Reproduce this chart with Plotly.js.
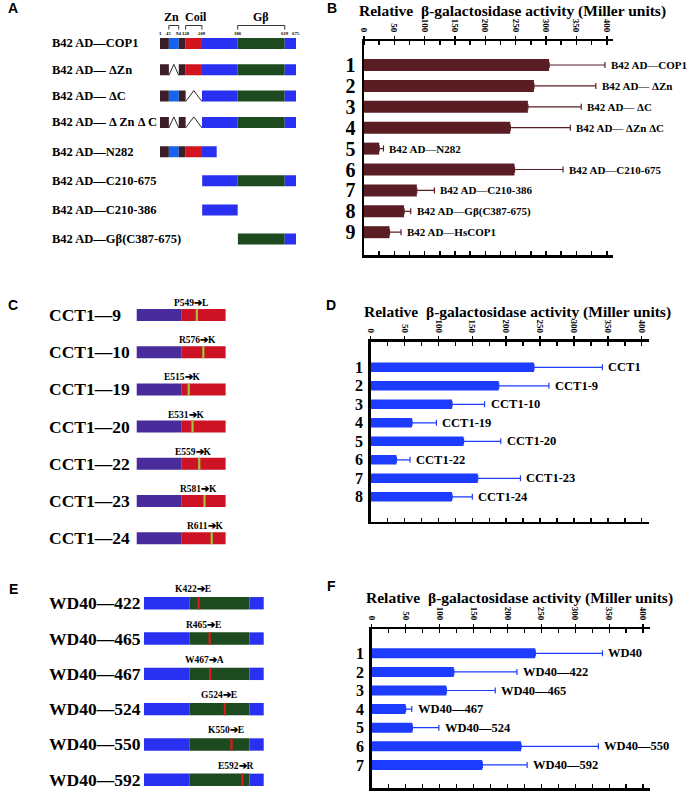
<!DOCTYPE html>
<html><head><meta charset="utf-8">
<script src="https://cdn.plot.ly/plotly-3.0.1.min.js"></script>
<style>html,body{margin:0;padding:0;background:#fff}#chart{width:690px;height:801px}</style>
</head><body><div id="chart"></div>
<script>
// ===================== DATA =====================
// Panel A : COP1 domain map and constructs
const cop1RegionNames = ['N1', 'Zn', 'N2', 'Coil', 'L1', 'WD40', 'L2'];
const cop1RegionStart = [1, 45, 94, 128, 209, 386, 619];
const cop1RegionEnd   = [45, 94, 128, 209, 386, 619, 675];
const cop1TickResidues = [1, 45, 94, 128, 209, 386, 619, 675];
const cop1BracketRegions = ['Zn', 'Coil', 'WD40'];
const cop1BracketLabels  = ['Zn', 'Coil', 'Gβ'];
const constructNames = ['B42 AD—COP1', 'B42 AD— ΔZn', 'B42 AD— ΔC', 'B42 AD— Δ Zn Δ C',
  'B42 AD—N282', 'B42 AD—C210-675', 'B42 AD—C210-386', 'B42 AD—Gβ(C387-675)'];
const constructStart = [1, 1, 1, 1, 1, 210, 210, 387];
const constructEnd   = [675, 675, 675, 675, 282, 675, 386, 675];
const constructDeleted = [[], ['Zn'], ['Coil'], ['Zn', 'Coil'], [], [], [], []];

// Panel B
const bRows = [1, 2, 3, 4, 5, 6, 7, 8, 9];
const bLabels = ['B42 AD—COP1', 'B42 AD— ΔZn', 'B42 AD— ΔC', 'B42 AD— ΔZn ΔC', 'B42 AD—N282',
  'B42 AD—C210-675', 'B42 AD—C210-386', 'B42 AD—Gβ(C387-675)', 'B42 AD—HsCOP1'];
const bValues = [305, 280, 270, 241, 25, 248, 87, 66, 42];
const bErrors = [92, 102, 88, 99, 7, 80, 29, 11, 19];

// Panel C : CCT1 point mutants
const cctNames = ['CCT1—9', 'CCT1—10', 'CCT1—19', 'CCT1—20', 'CCT1—22', 'CCT1—23', 'CCT1—24'];
const cctMutPos = [549, 576, 515, 531, 559, 581, 611];
const cctMutLabels = ['P549➔L', 'R576➔K', 'E515➔K', 'E531➔K', 'E559➔K', 'R581➔K', 'R611➔K'];
const cctRegionNames = ['CCT-N', 'CCT-C'];
const cctRegionStart = [298, 486];
const cctRegionEnd   = [486, 669];

// Panel D
const dRows = [1, 2, 3, 4, 5, 6, 7, 8];
const dLabels = ['CCT1', 'CCT1-9', 'CCT1-10', 'CCT1-19', 'CCT1-20', 'CCT1-22', 'CCT1-23', 'CCT1-24'];
const dValues = [241, 189, 120, 61, 137, 38, 158, 120];
const dErrors = [101, 74, 48, 36, 55, 20, 63, 30];

// Panel E : WD40 point mutants
const wdNames = ['WD40—422', 'WD40—465', 'WD40—467', 'WD40—524', 'WD40—550', 'WD40—592'];
const wdMutPos = [422, 465, 467, 524, 550, 592];
const wdMutLabels = ['K422➔E', 'R465➔E', 'W467➔A', 'G524➔E', 'K550➔E', 'E592➔R'];
const wdRegionNames = ['L1', 'WD40', 'L2'];
const wdRegionStart = [210, 386, 619];
const wdRegionEnd   = [386, 619, 675];

// Panel F
const fRows = [1, 2, 3, 4, 5, 6, 7];
const fLabels = ['WD40', 'WD40—422', 'WD40—465', 'WD40—467', 'WD40—524', 'WD40—550', 'WD40—592'];
const fValues = [241, 121, 110, 50, 60, 220, 163];
const fErrors = [99, 93, 72, 9, 39, 114, 66];

// ===================== STYLE / LAYOUT =====================
const W = 690, H = 801;
const px = x => x / W, py = y => 1 - y / H;
const SERIF = 'Liberation Serif, Times New Roman, serif';
const SANS = 'Liberation Sans, Arial, sans-serif';
const regionColor = {
  'N1': '#3b1e27', 'N2': '#3b1e27', 'Zn': '#1663f2', 'Coil': '#d3141f',
  'L1': '#2a30f2', 'L2': '#2a30f2', 'WD40': '#1d4a1e',
  'CCT-N': '#4a2b9c', 'CCT-C': '#cc1224'
};
const traces = [];
const layout = {
  width: W, height: H, margin: {l: 0, r: 0, t: 0, b: 0, pad: 0},
  paper_bgcolor: '#ffffff', plot_bgcolor: 'rgba(0,0,0,0)',
  showlegend: false, barmode: 'overlay', annotations: [], shapes: [], hovermode: false
};
let nx = 0, ny = 0;
const sfx = n => n === 1 ? '' : String(n);
function newX() { nx++; return sfx(nx); }
function newY() { ny++; return sfx(ny); }
function bf(size, fam) { return {family: fam || SERIF, size: size, color: '#000', weight: 700}; }

function barPanel(c) {
  const xs = newX(), xb = newX(), ys = newY();
  const xid = 'x' + xs, xbid = 'x' + xb, yid = 'y' + ys;
  const yTop = c.rows[0] + (c.top - c.firstRow) / c.rowSp;
  const yBot = c.rows[0] + (c.bottom - c.firstRow) / c.rowSp;
  layout['xaxis' + xs] = {
    domain: [px(c.x0), px(c.x1)], range: [0, c.xmax], anchor: yid, side: 'top',
    showline: true, linewidth: 2.5, linecolor: '#000', showgrid: false, zeroline: false,
    tickmode: 'linear', tick0: 0, dtick: 50, ticks: 'outside', ticklen: 3, tickwidth: 1.5, tickcolor: '#000',
    tickangle: 90, tickfont: bf(9),
    minor: {tick0: 0, dtick: 25, ticks: 'inside', ticklen: 4, tickwidth: 1.5, tickcolor: '#000', showgrid: false},
    fixedrange: true
  };
  layout['xaxis' + xb] = {
    overlaying: xid, range: [0, c.xmax], anchor: yid, side: 'bottom',
    showline: true, linewidth: 2.5, linecolor: '#000', showgrid: false, zeroline: false,
    tickmode: 'linear', tick0: 0, dtick: 25, ticks: 'inside', ticklen: 4, tickwidth: 1.5, tickcolor: '#000',
    showticklabels: false, fixedrange: true
  };
  layout['yaxis' + ys] = {
    domain: [py(c.bottom), py(c.top)], range: [yBot, yTop], anchor: xid,
    showline: true, linewidth: 2.5, linecolor: '#000', showgrid: false, zeroline: false, ticks: '',
    tickmode: 'array', tickvals: c.rows, ticktext: c.rows.map(String), tickfont: bf(c.rowFont),
    ticklabelstandoff: 2, fixedrange: true
  };
  traces.push({
    type: 'bar', orientation: 'h', x: c.values, y: c.rows, xaxis: xid, yaxis: yid,
    width: c.barPx / c.rowSp, marker: {color: c.color, line: {width: 0}},
    error_x: {type: 'data', symmetric: false, array: c.errors, arrayminus: c.values.map(() => 0),
      color: c.color, thickness: 1.2, width: 3},
    hoverinfo: 'skip'
  });
  traces.push({type: 'scatter', mode: 'markers', x: [0], y: [c.rows[0]], xaxis: xbid, yaxis: yid,
    marker: {opacity: 0}, hoverinfo: 'skip'});
  c.labels.forEach((t, i) => layout.annotations.push({
    xref: xid, yref: yid, x: c.values[i] + c.errors[i], y: c.rows[i], text: t, showarrow: false,
    xanchor: 'left', yanchor: 'middle', xshift: c.labelShift, font: bf(c.labelFont)
  }));
  layout.annotations.push({xref: 'paper', yref: 'paper', x: px(c.titleX), y: py(c.titleY),
    text: 'Relative\u00a0 β-galactosidase activity (Miller units)', showarrow: false,
    xanchor: 'center', yanchor: 'middle', font: bf(15.5)});
}

function diagramAxes(c) {
  const xs = newX(), ys = newY();
  const xid = 'x' + xs, yid = 'y' + ys;
  const L = 0, R = 335;
  layout['xaxis' + xs] = {domain: [px(L), px(R)],
    range: [c.resRef - (c.pxRef - L) / c.pxPerRes, c.resRef + (R - c.pxRef) / c.pxPerRes],
    anchor: yid, visible: false, fixedrange: true};
  const top = c.firstRow - c.pad * c.rowSp, bot = c.firstRow + (c.n - 1 + c.pad) * c.rowSp;
  layout['yaxis' + ys] = {domain: [py(bot), py(top)], range: [c.n - 1 + c.pad, -c.pad],
    anchor: xid, visible: false, fixedrange: true};
  return {xid, yid, h: c.barPx / c.rowSp};
}

function addSegments(ax, rowIdx, names, starts, ends, cStart, cEnd, deleted) {
  names.forEach((nm, k) => {
    const s = Math.max(starts[k], cStart), e = Math.min(ends[k], cEnd);
    if (e <= s) return;
    if (deleted.indexOf(nm) >= 0) {
      traces.push({type: 'scatter', mode: 'lines', xaxis: ax.xid, yaxis: ax.yid,
        x: [s, (s + e) / 2, e], y: [rowIdx + ax.h / 2, rowIdx - ax.h / 2, rowIdx + ax.h / 2],
        line: {color: '#2a2a2a', width: 1}, hoverinfo: 'skip'});
      return;
    }
    traces.push({type: 'bar', orientation: 'h', xaxis: ax.xid, yaxis: ax.yid,
      x: [e - s], base: [s], y: [rowIdx], width: ax.h,
      marker: {color: regionColor[nm], line: {width: 0}}, hoverinfo: 'skip'});
  });
}

function addMutation(ax, rowIdx, pos, label, color, yshift) {
  traces.push({type: 'scatter', mode: 'lines', xaxis: ax.xid, yaxis: ax.yid,
    x: [pos, pos], y: [rowIdx - ax.h / 2, rowIdx + ax.h / 2],
    line: {color: color, width: 2.2}, hoverinfo: 'skip'});
  layout.annotations.push({xref: ax.xid, yref: ax.yid, x: pos, y: rowIdx, yshift: yshift, xshift: -6,
    text: label, showarrow: false, xanchor: 'center', yanchor: 'middle', font: bf(9.5)});
}

// ---------- Panel A ----------
const aTop = diagramAxes({resRef: 1, pxRef: 160, pxPerRes: 0.2018, n: 4, firstRow: 43.5, rowSp: 26.3, pad: 0.5, barPx: 11});
const aBot = diagramAxes({resRef: 1, pxRef: 160, pxPerRes: 0.2018, n: 4, firstRow: 151.7, rowSp: 29.1, pad: 0.5, barPx: 11});
constructNames.forEach((nm, i) => {
  const ax = i < 4 ? aTop : aBot, r = i < 4 ? i : i - 4;
  addSegments(ax, r, cop1RegionNames, cop1RegionStart, cop1RegionEnd, constructStart[i], constructEnd[i], constructDeleted[i]);
  layout.annotations.push({xref: 'paper', yref: ax.yid, x: px(50), y: r, text: nm, showarrow: false,
    xanchor: 'left', yanchor: 'middle', font: bf(12.5)});
});
cop1TickResidues.forEach(r => layout.annotations.push({xref: aTop.xid, yref: 'paper', x: r, y: py(33.5),
  text: String(r), showarrow: false, xanchor: 'center', yanchor: 'middle', font: bf(4.8)}));
const bracketShift = [-2, 2, 0];
cop1BracketRegions.forEach((nm, k) => {
  const j = cop1RegionNames.indexOf(nm), s = cop1RegionStart[j], e = cop1RegionEnd[j];
  layout.shapes.push({type: 'path', xref: aTop.xid, yref: 'paper',
    path: `M ${s},${py(29.5)} L ${s},${py(25.5)} L ${e},${py(25.5)} L ${e},${py(29.5)}`,
    line: {color: '#333', width: 1}});
  layout.annotations.push({xref: aTop.xid, yref: 'paper', x: (s + e) / 2, y: py(17), xshift: bracketShift[k],
    text: cop1BracketLabels[k], showarrow: false, xanchor: 'center', yanchor: 'middle', font: bf(12)});
});

// ---------- Panel C ----------
const cAx = diagramAxes({resRef: 515, pxRef: 188.7, pxPerRes: 0.2396, n: cctNames.length, firstRow: 315, rowSp: 37.2, pad: 0.6, barPx: 12});
cctNames.forEach((nm, i) => {
  addSegments(cAx, i, cctRegionNames, cctRegionStart, cctRegionEnd, -Infinity, Infinity, []);
  addMutation(cAx, i, cctMutPos[i], cctMutLabels[i], '#9cc93a', 12);
  layout.annotations.push({xref: 'paper', yref: cAx.yid, x: px(47), y: i, text: nm, showarrow: false,
    xanchor: 'left', yanchor: 'middle', font: bf(17.5)});
});

// ---------- Panel E ----------
const eAx = diagramAxes({resRef: 386, pxRef: 189.3, pxPerRes: 0.2575, n: wdNames.length, firstRow: 604.3, rowSp: 37.1, pad: 0.6, barPx: 13});
wdNames.forEach((nm, i) => {
  addSegments(eAx, i, wdRegionNames, wdRegionStart, wdRegionEnd, -Infinity, Infinity, []);
  addMutation(eAx, i, wdMutPos[i], wdMutLabels[i], '#dd1a1a', 14);
  layout.annotations.push({xref: 'paper', yref: eAx.yid, x: px(47), y: i, text: nm, showarrow: false,
    xanchor: 'left', yanchor: 'middle', font: bf(17.5)});
});

// ---------- Bar panels ----------
barPanel({rows: bRows, values: bValues, errors: bErrors, labels: bLabels, color: '#5a1d24',
  x0: 364, x1: 613, xmax: 410.3, top: 41, bottom: 255, firstRow: 65, rowSp: 20.9, barPx: 12,
  rowFont: 20, labelFont: 11, labelShift: 4, titleX: 512, titleY: 11});
barPanel({rows: dRows, values: dValues, errors: dErrors, labels: dLabels, color: '#1d3cff',
  x0: 370.7, x1: 648.5, xmax: 410, top: 341.7, bottom: 521.7, firstRow: 367.3, rowSp: 18.5, barPx: 9.5,
  rowFont: 16, labelFont: 12.5, labelShift: 4, titleX: 517.5, titleY: 311.7});
barPanel({rows: fRows, values: fValues, errors: fErrors, labels: fLabels, color: '#1d3cff',
  x0: 371.7, x1: 650, xmax: 410, top: 629, bottom: 788.3, firstRow: 653.3, rowSp: 18.6, barPx: 10,
  rowFont: 16, labelFont: 12.5, labelShift: 4, titleX: 519, titleY: 597.7});

// ---------- Panel letters ----------
[['A', 13, 8], ['B', 332, 8], ['C', 13, 305], ['D', 331, 305], ['E', 13, 589], ['F', 331, 586]].forEach(l =>
  layout.annotations.push({xref: 'paper', yref: 'paper', x: px(l[1]), y: py(l[2]), text: l[0], showarrow: false,
    xanchor: 'center', yanchor: 'middle', font: bf(14, SANS)}));

Plotly.newPlot('chart', traces, layout, {staticPlot: true, displayModeBar: false});
</script>
</body></html>
